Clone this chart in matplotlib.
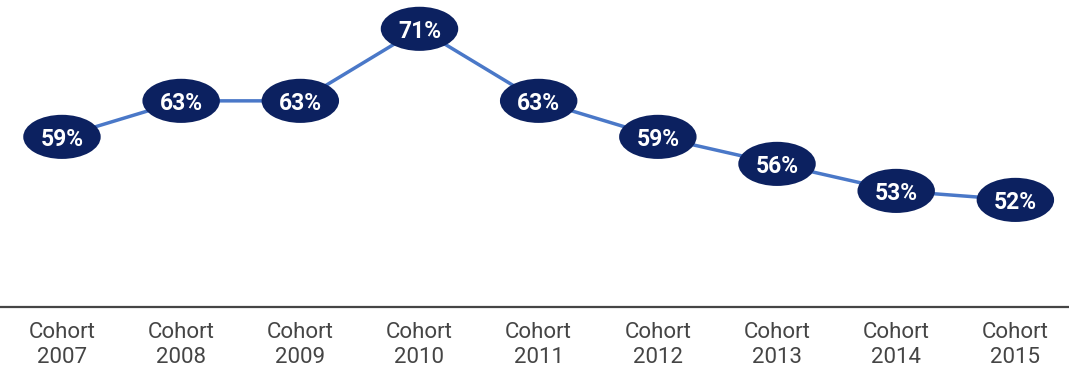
"""Cohort completion rate line chart with ellipse labels."""

import matplotlib
import matplotlib.pyplot as plt
from matplotlib.patches import Ellipse

matplotlib.use("Agg")

cohorts = ["2007", "2008", "2009", "2010", "2011", "2012", "2013", "2014", "2015"]
rates = [59, 63, 63, 71, 63, 59, 56, 53, 52]

LINE_COLOR = "#4a78c8"
BUBBLE_COLOR = "#0c2160"
TEXT_GRAY = "#454545"

plt.rcParams["font.family"] = ["Roboto", "DejaVu Sans"]

fig = plt.figure(figsize=(10.69, 3.74), dpi=100)
ax = fig.add_axes([0, 0.179, 1, 0.821])

x = list(range(len(cohorts)))
ax.plot(x, rates, color=LINE_COLOR, linewidth=2.5, zorder=1)

# ellipse size in data units (~77 x 44 px)
ew, eh = 0.65, 4.9
for xi, r in zip(x, rates):
    ax.add_patch(Ellipse((xi, r), ew, eh, facecolor=BUBBLE_COLOR,
                         edgecolor="none", zorder=2))
    ax.text(xi, r, f"{r}%", color="white", fontsize=16.5, fontweight="bold",
            ha="center", va="center_baseline", zorder=3)

ax.set_xlim(-0.52, 8.45)
ax.set_ylim(40.1, 74.2)

ax.set_xticks(x)
ax.set_xticklabels([f"Cohort\n{c}" for c in cohorts], fontsize=16,
                   color=TEXT_GRAY, linespacing=1.2)
ax.tick_params(axis="x", length=0, pad=11)
ax.set_yticks([])

for side in ["top", "right", "left"]:
    ax.spines[side].set_visible(False)
ax.spines["bottom"].set_color(TEXT_GRAY)
ax.spines["bottom"].set_linewidth(1.6)

fig.savefig("out.png", dpi=100)
